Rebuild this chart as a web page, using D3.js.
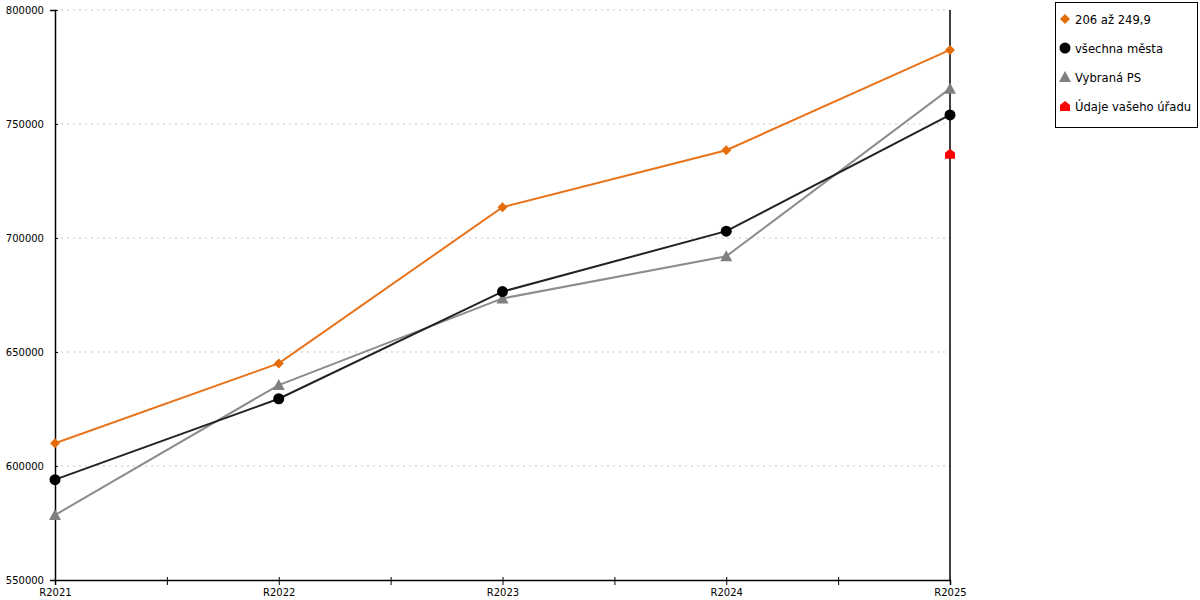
<!DOCTYPE html>
<html>
<head>
<meta charset="utf-8">
<script src="https://cdn.jsdelivr.net/npm/d3@7"></script>
<style>
  body { margin: 0; background: #fff; }
  svg { font-family: "DejaVu Sans", Verdana, sans-serif; }
</style>
</head>
<body>
<div class="chart"></div>
<script>
// data
var years = ["R2021", "R2022", "R2023", "R2024", "R2025"];
var yTicks = [550000, 600000, 650000, 700000, 750000, 800000];
var orangeVals = [610000, 645000, 713500, 738500, 782500];   // 206 až 249,9
var blackVals = [594000, 629500, 676500, 703000, 754000];    // všechna města
var grayVals = [578500, 635500, 673500, 692000, 765500];     // Vybraná PS
var redVals = [null, null, null, null, 737000];              // Údaje vašeho úřadu

var w = 1200, h = 600;
var padL = 55, padR = 950, padT = 10, padB = 580;

var svg = d3.select(".chart").append("svg")
    .attr("width", w)
    .attr("height", h);

// index scale so we can put ticks between categories too
var xScale = d3.scaleLinear().domain([0, years.length - 1]).range([padL, padR]);
var yScale = d3.scaleLinear().domain([550000, 800000]).range([padB, padT]);

// dotted gridlines
svg.append("g").selectAll("line")
    .data(yTicks.slice(1))
    .enter().append("line")
    .attr("x1", padL).attr("x2", padR)
    .attr("y1", d => yScale(d)).attr("y2", d => yScale(d))
    .attr("stroke", "#c4c4c4")
    .attr("stroke-dasharray", "2,4");

// right border line
svg.append("line")
    .attr("x1", padR).attr("x2", padR)
    .attr("y1", padT).attr("y2", padB)
    .attr("stroke", "#000").attr("stroke-width", 1.5);

var xAxis = d3.axisBottom(xScale)
    .tickValues(d3.range(0, years.length - 0.99, 0.5))
    .tickFormat(d => Number.isInteger(d) ? years[d] : "")
    .tickSize(5).tickPadding(4);

svg.append("g")
    .attr("transform", `translate(0,${padB})`)
    .call(xAxis)
    .attr("font-family", "DejaVu Sans")
    .call(g => {
        g.select(".domain").attr("stroke", "#000").attr("stroke-width", 1.5);
        g.selectAll(".tick line").attr("y1", function(d) { return (d == 0 || d == years.length - 1) ? 0 : -3; });
        g.selectAll("text").attr("fill", "#000").style("font-size", "10px");
    });

var yAxis = d3.axisLeft(yScale)
    .tickValues(yTicks)
    .tickFormat(d3.format("d"))
    .tickSize(5).tickPadding(6);

svg.append("g")
    .attr("transform", `translate(${padL},0)`)
    .call(yAxis)
    .attr("font-family", "DejaVu Sans")
    .call(g => {
        g.select(".domain").attr("stroke", "#000").attr("stroke-width", 1.5);
        g.selectAll(".tick line").attr("x2", 3);
        g.selectAll("text").attr("fill", "#000").style("font-size", "10px");
    });

var series = [
    { name: "206 až 249,9", values: orangeVals, color: "#e46c0a", line: "#e8731a", shape: "diamond" },
    { name: "Vybraná PS", values: grayVals, color: "#808080", line: "#8c8c8c", shape: "triangle" },
    { name: "všechna města", values: blackVals, color: "#000", line: "#222", shape: "circle" },
    { name: "Údaje vašeho úřadu", values: redVals, color: "#ff0000", line: "#ff0000", shape: "house" }
];

function shapePath(shape) {
    if (shape == "diamond") return "M0,-5L5,0L0,5L-5,0Z";
    if (shape == "triangle") return "M0,-6L6,5L-6,5Z";
    if (shape == "house") return "M0,-5L5,-1L5,5L-5,5L-5,-1Z";
    return null;
}

var line = d3.line()
    .defined(d => d != null)
    .x((d, i) => xScale(i))
    .y(d => yScale(d));

series.forEach(function(s) {
    svg.append("path")
        .datum(s.values)
        .attr("fill", "none")
        .attr("stroke", s.line)
        .attr("stroke-width", 2)
        .attr("d", line);
});

series.forEach(function(s) {
    var pts = s.values.map((v, i) => ({ v: v, i: i })).filter(d => d.v != null);
    var g = svg.append("g");
    if (s.shape == "circle") {
        g.selectAll("circle").data(pts).enter().append("circle")
            .attr("cx", d => xScale(d.i)).attr("cy", d => yScale(d.v))
            .attr("r", 5.5).attr("fill", s.color);
    } else {
        g.selectAll("path").data(pts).enter().append("path")
            .attr("transform", d => `translate(${xScale(d.i)},${yScale(d.v)})`)
            .attr("d", shapePath(s.shape))
            .attr("fill", s.color);
    }
});

// legend
var legendOrder = [series[0], series[2], series[1], series[3]];
var legend = svg.append("g").attr("transform", "translate(1055,2)");
legend.append("rect")
    .attr("x", 0.5).attr("y", 0.5)
    .attr("width", 142).attr("height", 125)
    .attr("fill", "#fff").attr("stroke", "#000");

var item = legend.selectAll(".legend")
    .data(legendOrder)
    .enter().append("g")
    .attr("class", "legend")
    .attr("transform", (d, i) => `translate(10,${17 + i * 29})`);

item.each(function(d) {
    var g = d3.select(this);
    if (d.shape == "circle") {
        g.append("circle").attr("r", 5.5).attr("fill", d.color);
    } else {
        g.append("path").attr("d", shapePath(d.shape)).attr("fill", d.color);
    }
});

item.append("text")
    .attr("x", 10)
    .attr("y", 4.5)
    .style("font-size", "11.6px")
    .attr("fill", "#000")
    .text(d => d.name);
</script>
</body>
</html>
